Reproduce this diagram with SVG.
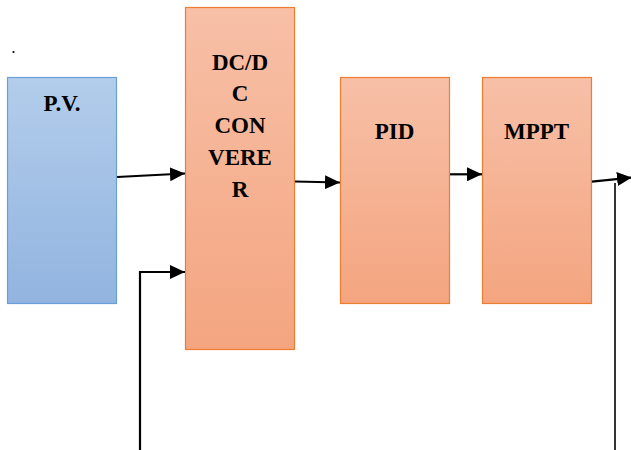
<svg xmlns="http://www.w3.org/2000/svg" width="631" height="450" viewBox="0 0 631 450">
  <defs>
    <linearGradient id="gBlue" x1="0" y1="0" x2="0" y2="1">
      <stop offset="0" stop-color="#b3cdeb"/>
      <stop offset="1" stop-color="#92b4e0"/>
    </linearGradient>
    <linearGradient id="gOrange" x1="0" y1="0" x2="0" y2="1">
      <stop offset="0" stop-color="#f7c0a7"/>
      <stop offset="1" stop-color="#f4a580"/>
    </linearGradient>
    <marker id="arrow" viewBox="0 0 15 14" refX="15" refY="7" markerWidth="15" markerHeight="14" markerUnits="userSpaceOnUse" orient="auto">
      <path d="M0,0 L15,7 L0,14 Z" fill="#000"/>
    </marker>
  </defs>
  <style>
    .blue { fill: url(#gBlue); stroke: #6a9fd8; stroke-width: 1.2; }
    .orange { fill: url(#gOrange); stroke: #ed7d31; stroke-width: 1.2; }
    .label { font-family: "Liberation Serif", "Times New Roman", serif; font-weight: bold; font-size: 23px; fill: #000; text-anchor: middle; }
    .wire { fill: none; stroke: #000; stroke-width: 2.2; }
    .thin { fill: none; stroke: #000; stroke-width: 1.6; }
  </style>
  <rect width="631" height="450" fill="#fff"/>
  <circle cx="13.5" cy="52" r="1.1" fill="#000"/>

  <g id="pv">
    <rect class="blue" x="7.5" y="77.5" width="109" height="226"/>
    <text class="label" x="62" y="111">P.V.</text>
  </g>
  <g id="dcdc">
    <rect class="orange" x="185.5" y="7.5" width="109" height="342"/>
    <text class="label" x="240" y="70">DC/D</text>
    <text class="label" x="240" y="101">C</text>
    <text class="label" x="240" y="133">CON</text>
    <text class="label" x="240" y="165">VERE</text>
    <text class="label" x="240" y="197">R</text>
  </g>
  <g id="pid">
    <rect class="orange" x="340.5" y="77.5" width="109" height="226"/>
    <text class="label" x="394.5" y="139">PID</text>
  </g>
  <g id="mppt">
    <rect class="orange" x="482.5" y="77.5" width="109" height="226"/>
    <text class="label" x="536.5" y="139">MPPT</text>
  </g>

  <g id="connectors">
    <line class="wire" x1="117" y1="177" x2="185" y2="173.5" marker-end="url(#arrow)"/>
    <line class="wire" x1="295" y1="181.5" x2="340" y2="182.5" marker-end="url(#arrow)"/>
    <line class="wire" x1="450" y1="174.3" x2="482" y2="174.3" marker-end="url(#arrow)"/>
    <line class="wire" x1="592" y1="181.7" x2="632" y2="177.5" marker-end="url(#arrow)"/>
    <line class="thin" x1="615" y1="183" x2="615" y2="450"/>
    <polyline class="wire" points="140,450 140,272 185,272" marker-end="url(#arrow)"/>
  </g>
</svg>
